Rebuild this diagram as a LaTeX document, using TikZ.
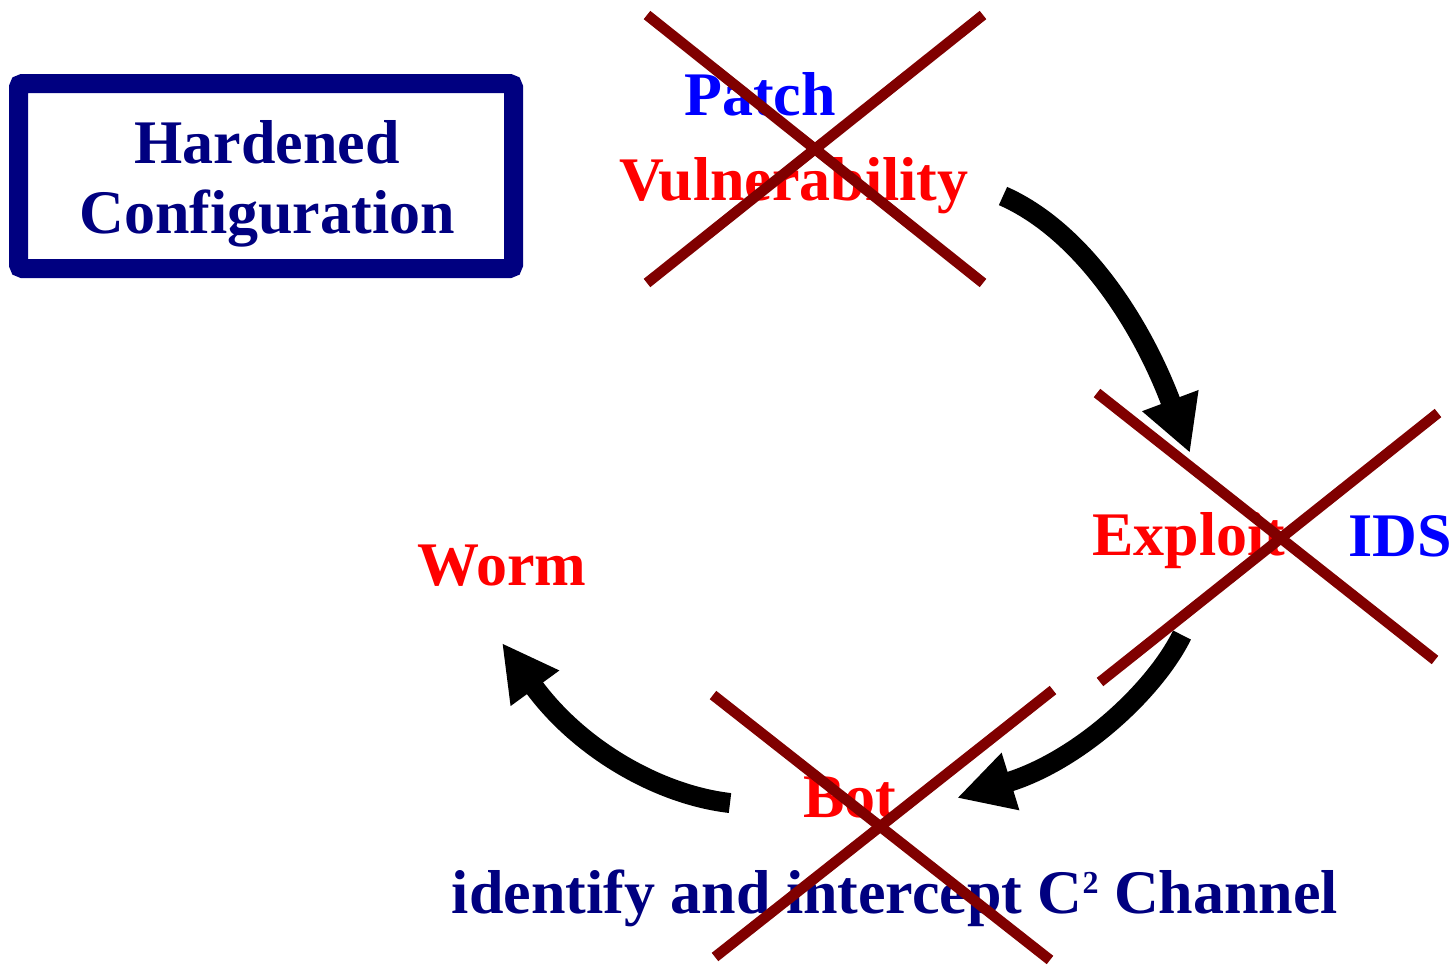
\documentclass[tikz,border=0pt]{standalone}
\usepackage{fontspec}
\setmainfont{Liberation Serif}
\usetikzlibrary{arrows.meta}
\definecolor{navy}{RGB}{0,0,128}
\definecolor{xred}{RGB}{128,0,0}
\newcommand{\supsq}{\raisebox{9.7pt}{\fontsize{16}{16}\selectfont 2}}
\begin{document}
\begin{tikzpicture}[x=0.5pt,y=-0.5pt,
  lbl/.style={font=\fontsize{31}{35}\selectfont\bfseries, inner sep=0pt, anchor=base},
  crossline/.style={draw=xred, line width=5.3pt},
  flow/.style={draw=black, line width=10pt, -{Triangle[length=28pt,width=28pt]}},
  hbox/.style={draw=navy, line width=9.5pt, rounded corners=2pt}]
\useasboundingbox (0,0) rectangle (1456,965);

% Hardened configuration box
\draw[hbox] (18.5,83.5) rectangle (513.5,268.5);
\node[lbl, text=navy] (hard) at (267,163) {Hardened};
\node[lbl, text=navy] (conf) at (267,233) {Configuration};

% labels
\node[lbl, text=blue] (patch) at (760,115) {Patch};
\node[lbl, text=red] (vuln) at (794,200) {Vulnerability};
\node[lbl, text=red] (exploit) at (1189,555) {Exploit};
\node[lbl, text=blue] (ids) at (1400,556) {IDS};
\node[lbl, text=red] (worm) at (502,585) {Worm};
\node[lbl, text=red] (bot) at (850,817) {Bot};
\node[lbl, text=navy] (cc) at (895,913) {identify and intercept C\supsq{} Channel};

% arrows
\coordinate (a1s) at (1003,196);
\coordinate (a1e) at (1190,453);
\coordinate (a2s) at (1182,635);
\coordinate (a2e) at (957,798);
\coordinate (a3s) at (730,803);
\coordinate (a3e) at (502,643);
\draw[flow] (a1s) .. controls (1080,230) and (1140,320) .. (a1e);
\draw[flow] (a2s) .. controls (1155,690) and (1080,760) .. (a2e);
\draw[flow] (a3s) .. controls (660,795) and (580,750) .. (a3e);

% crosses
\coordinate (p1) at (647,15);   \coordinate (p2) at (983,283);
\coordinate (p3) at (647,283);  \coordinate (p4) at (983,15);
\draw[crossline] (p1) -- (p2);
\draw[crossline] (p3) -- (p4);
\coordinate (e1) at (1097,393); \coordinate (e2) at (1435,660);
\coordinate (e3) at (1100,682); \coordinate (e4) at (1438,413);
\draw[crossline] (e1) -- (e2);
\draw[crossline] (e3) -- (e4);
\coordinate (b1) at (713,695);  \coordinate (b2) at (1050,960);
\coordinate (b3) at (715,957);  \coordinate (b4) at (1053,690);
\draw[crossline] (b1) -- (b2);
\draw[crossline] (b3) -- (b4);
\end{tikzpicture}
\end{document}
